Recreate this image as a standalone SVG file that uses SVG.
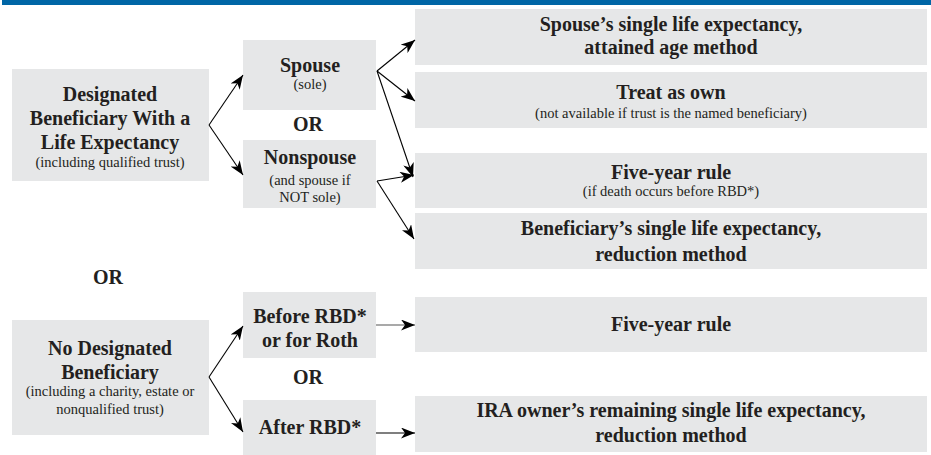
<svg xmlns="http://www.w3.org/2000/svg" width="931" height="455" viewBox="0 0 931 455">
<defs>
<marker id="ah" markerUnits="userSpaceOnUse" markerWidth="15" markerHeight="11" viewBox="0 0 15 11" refX="14" refY="5.5" orient="auto">
<path d="M0,0 L14,5.5 L0,11 L4,5.5 z" fill="#000"/>
</marker>
<style>
.box{fill:#E6E7E8}
.t{font-family:"Liberation Serif","Times New Roman",serif;font-weight:bold;font-size:20px;fill:#231F20;text-anchor:middle}
.s{font-family:"Liberation Serif","Times New Roman",serif;font-size:14.5px;fill:#231F20;text-anchor:middle}
.c line{stroke:#000;stroke-width:1.1;marker-end:url(#ah)}
</style>
</defs>
<rect x="2" y="0" width="929" height="5" fill="#0066A6"/>

<g id="n-designated"><rect class="box" x="12" y="69" width="197" height="112"/>
<text class="t" x="110" y="101">Designated</text>
<text class="t" x="110" y="125">Beneficiary With a</text>
<text class="t" x="110" y="149">Life Expectancy</text>
<text class="s" x="110" y="167">(including qualified trust)</text></g>

<g id="n-spouse"><rect class="box" x="243" y="40" width="133" height="70"/>
<text class="t" x="310" y="72">Spouse</text>
<text class="s" x="310" y="89">(sole)</text></g>

<g id="or1"><text class="t" x="308" y="131">OR</text></g>

<g id="n-nonspouse"><rect class="box" x="243" y="140" width="133" height="68"/>
<text class="t" x="310" y="164">Nonspouse</text>
<text class="s" x="310" y="185">(and spouse if</text>
<text class="s" x="310" y="202">NOT sole)</text></g>

<g id="n-r1"><rect class="box" x="415" y="9" width="512" height="56"/>
<text class="t" x="671" y="31">Spouse’s single life expectancy,</text>
<text class="t" x="671" y="54">attained age method</text></g>

<g id="n-r2"><rect class="box" x="415" y="72" width="512" height="56"/>
<text class="t" x="671" y="99">Treat as own</text>
<text class="s" x="671" y="118">(not available if trust is the named beneficiary)</text></g>

<g id="n-r3"><rect class="box" x="415" y="153" width="512" height="55"/>
<text class="t" x="671" y="179">Five-year rule</text>
<text class="s" x="671" y="196">(if death occurs before RBD*)</text></g>

<g id="n-r4"><rect class="box" x="415" y="213" width="512" height="56"/>
<text class="t" x="671" y="235">Beneficiary’s single life expectancy,</text>
<text class="t" x="671" y="261">reduction method</text></g>

<g id="or2"><text class="t" x="108" y="284">OR</text></g>

<g id="n-nodesig"><rect class="box" x="12" y="320" width="197" height="115"/>
<text class="t" x="110" y="355">No Designated</text>
<text class="t" x="110" y="379">Beneficiary</text>
<text class="s" x="110" y="396">(including a charity, estate or</text>
<text class="s" x="110" y="414">nonqualified trust)</text></g>

<g id="n-before"><rect class="box" x="243" y="292" width="133" height="66"/>
<text class="t" x="310" y="323">Before RBD*</text>
<text class="t" x="310" y="347">or for Roth</text></g>

<g id="or3"><text class="t" x="308" y="384">OR</text></g>

<g id="n-after"><rect class="box" x="243" y="400" width="133" height="55"/>
<text class="t" x="310" y="434">After RBD*</text></g>

<g id="n-r5"><rect class="box" x="415" y="297" width="512" height="55"/>
<text class="t" x="671" y="331">Five-year rule</text></g>

<g id="n-r6"><rect class="box" x="415" y="396" width="512" height="56"/>
<text class="t" x="671" y="417">IRA owner’s remaining single life expectancy,</text>
<text class="t" x="671" y="442">reduction method</text></g>

<g id="connectors" class="c">
<line x1="209" y1="125" x2="243" y2="75"/>
<line x1="209" y1="125" x2="243" y2="175"/>
<line x1="377" y1="71" x2="415" y2="40"/>
<line x1="377" y1="71" x2="415" y2="101"/>
<line x1="377" y1="71" x2="413" y2="177"/>
<line x1="377" y1="181" x2="414" y2="175"/>
<line x1="377" y1="181" x2="414" y2="239"/>
<line x1="209" y1="377" x2="243" y2="326"/>
<line x1="209" y1="377" x2="243" y2="432"/>
<line x1="376" y1="325" x2="415" y2="325" style="stroke:#555"/>
<line x1="376" y1="433" x2="415" y2="433"/>
</g>
</svg>
